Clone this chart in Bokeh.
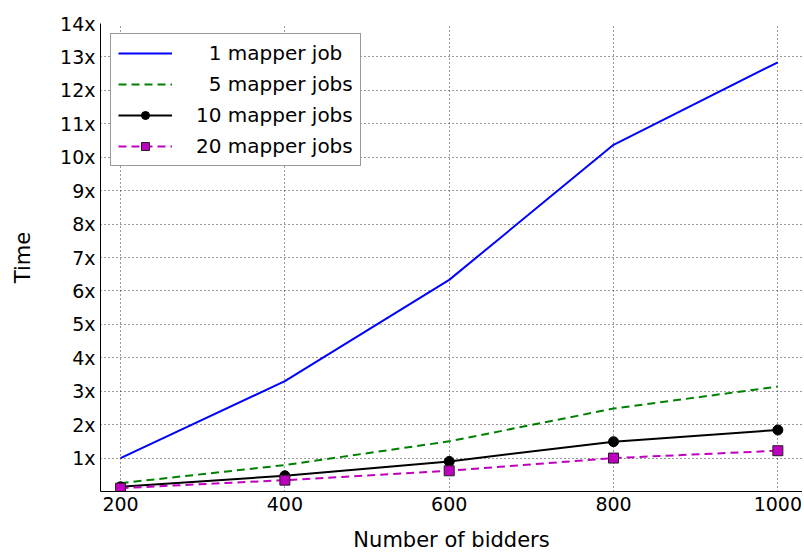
from bokeh.plotting import figure
from bokeh.models import (Range1d, FixedTicker, PrintfTickFormatter, Legend,
                          LegendItem)
from bokeh.embed import file_html
from bokeh.resources import INLINE

# ---- data ----
bidders = [200, 400, 600, 800, 1000]
one_mapper = [1.0, 3.3, 6.33, 10.37, 12.84]
five_mappers = [0.25, 0.79, 1.5, 2.48, 3.14]
ten_mappers = [0.14, 0.47, 0.9, 1.49, 1.84]
twenty_mappers = [0.1, 0.34, 0.62, 1.0, 1.22]

x_ticks = [200, 400, 600, 800, 1000]
y_ticks = list(range(1, 15))

labels = ["\u20071 mapper job", "\u20075 mapper jobs",
          "10 mapper jobs", "20 mapper jobs"]

FONT = "DejaVu Sans"

p = figure(width=802, height=554, output_backend="svg", toolbar_location=None,
           x_range=Range1d(175.6, 1030), y_range=Range1d(0, 14),
           min_border_left=100, min_border_right=0, min_border_top=23,
           min_border_bottom=0)
p.outline_line_color = None
p.background_fill_color = "white"
p.border_fill_color = "white"

# axes
p.xaxis.ticker = FixedTicker(ticks=x_ticks)
p.yaxis.ticker = FixedTicker(ticks=y_ticks)
p.yaxis.formatter = PrintfTickFormatter(format="%dx")
for ax in (p.xaxis, p.yaxis):
    ax.major_tick_in = 0
    ax.major_tick_out = 0
    ax.minor_tick_in = 0
    ax.minor_tick_out = 0
    ax.axis_line_color = "black"
    ax.axis_line_width = 1
    ax.major_label_text_font = FONT
    ax.major_label_text_font_size = "19px"
    ax.major_label_text_color = "black"
    ax.axis_label_text_font = FONT
    ax.axis_label_text_font_size = "21px"
    ax.axis_label_text_font_style = "normal"
    ax.axis_label_text_color = "black"
p.xaxis.axis_label = "Number of bidders"
p.yaxis.axis_label = "Time"
p.xaxis.major_label_standoff = 5
p.xaxis.axis_label_standoff = 14
p.yaxis.major_label_standoff = 5
p.yaxis.axis_label_standoff = 22

# grid
for g in (p.xgrid, p.ygrid):
    g.grid_line_color = "black"
    g.grid_line_dash = "1 3"
    g.grid_line_width = 1
    g.grid_line_alpha = 0.8

# series
r1 = p.line(bidders, one_mapper, line_color="#0000ff", line_width=2)
r5 = p.line(bidders, five_mappers, line_color="#008000", line_width=2,
            line_dash="8 5")
r10l = p.line(bidders, ten_mappers, line_color="black", line_width=2)
r10m = p.scatter(bidders, ten_mappers, marker="circle", size=10,
                 fill_color="black", line_color="black")
r20l = p.line(bidders, twenty_mappers, line_color="#bf00bf", line_width=2,
              line_dash="8 5")
r20m = p.scatter(bidders, twenty_mappers, marker="square", size=10,
                 fill_color="#bf00bf", line_color="#222222", line_width=1)

legend = Legend(items=[
    LegendItem(label=labels[0], renderers=[r1]),
    LegendItem(label=labels[1], renderers=[r5]),
    LegendItem(label=labels[2], renderers=[r10l, r10m]),
    LegendItem(label=labels[3], renderers=[r20l, r20m]),
], location="top_left")
legend.margin = 10
legend.padding = 7
legend.spacing = 7
legend.glyph_width = 54
legend.glyph_height = 20
legend.label_height = 20
legend.label_standoff = 24
legend.label_text_font = FONT
legend.label_text_font_size = "20px"
legend.label_text_color = "black"
legend.border_line_color = "#333333"
legend.border_line_width = 1
legend.background_fill_color = "white"
legend.background_fill_alpha = 1.0
p.add_layout(legend)

open("out.html", "w").write(file_html(p, INLINE))
